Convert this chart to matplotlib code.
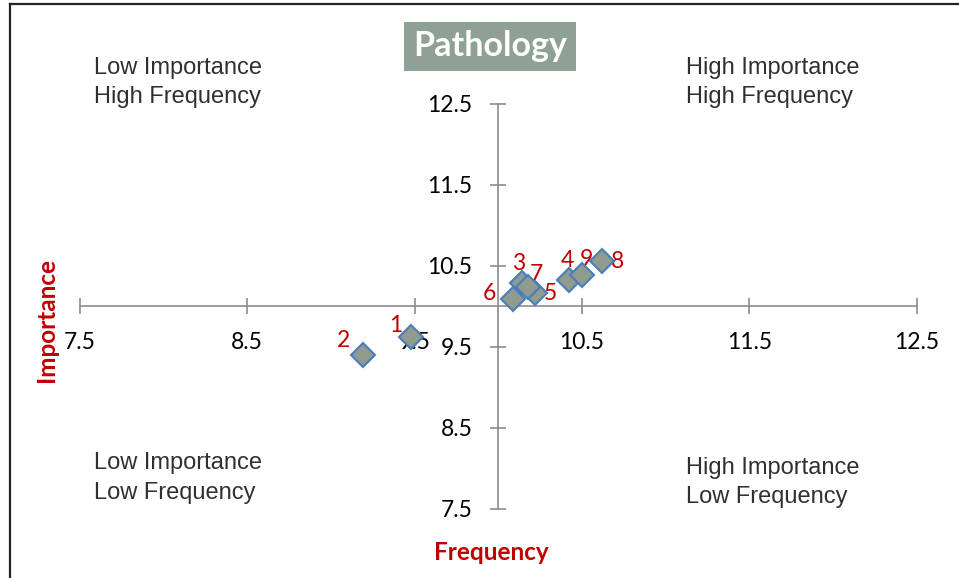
import matplotlib
matplotlib.use("Agg")
import matplotlib.pyplot as plt
from matplotlib.lines import Line2D

# ---------------------------------------------------------
# data
# ---------------------------------------------------------
point_ids = ["1", "2", "3", "4", "5", "6", "7", "8", "9"]
frequency = [9.48, 9.19, 10.14, 10.42, 10.22, 10.09, 10.18, 10.62, 10.50]
importance = [9.62, 9.39, 10.28, 10.32, 10.16, 10.09, 10.24, 10.55, 10.38]

tick_values = [7.5, 8.5, 9.5, 10.5, 11.5, 12.5]
tick_labels = ["7.5", "8.5", "9.5", "10.5", "11.5", "12.5"]

quadrant_texts = [
    "Low Importance\nHigh Frequency",
    "High Importance\nHigh Frequency",
    "Low Importance\nLow Frequency",
    "High Importance\nLow Frequency",
]

# label offsets (points) for each numbered marker
label_offsets = {
    "1": (-11, 8), "2": (-14, 11), "3": (-2, 14), "4": (-1, 14),
    "5": (11, 0), "6": (-17, 4), "7": (6, 9), "8": (11, 0), "9": (3, 11),
}

CALIBRI_LIKE = ["Lato", "DejaVu Sans"]
ARIAL_LIKE = ["Liberation Sans", "DejaVu Sans"]
DARK_RED = "#c00000"
AXIS_GREY = "#8c8c8c"

# ---------------------------------------------------------
# figure
# ---------------------------------------------------------
fig = plt.figure(figsize=(9.59, 5.78), dpi=100)
ax = fig.add_axes([80 / 959, 1 - 508.5 / 578, 836.5 / 959, 405 / 578])

ax.set_xlim(7.5, 12.5)
ax.set_ylim(7.5, 12.5)

# cross-shaped axes through (10, 10)
ax.spines["left"].set_position(("data", 10))
ax.spines["bottom"].set_position(("data", 10))
ax.spines["top"].set_visible(False)
ax.spines["right"].set_visible(False)
for s in ("left", "bottom"):
    ax.spines[s].set_color(AXIS_GREY)
    ax.spines[s].set_linewidth(1.2)

ax.set_xticks(tick_values)
ax.set_xticklabels(tick_labels)
ax.set_yticks(tick_values)
ax.set_yticklabels(tick_labels)
ax.tick_params(axis="both", direction="inout", length=11, width=1.2,
               color=AXIS_GREY, labelsize=16.5, labelcolor="black")
ax.tick_params(axis="x", pad=13)
ax.tick_params(axis="y", pad=13)
for lab in ax.get_xticklabels() + ax.get_yticklabels():
    lab.set_family(CALIBRI_LIKE)

ax.patch.set_visible(False)

# points
ax.plot(frequency, importance, linestyle="none", marker="D", markersize=12,
        markerfacecolor="#8f9b8f", markeredgecolor="#4a7ebb",
        markeredgewidth=1.5, zorder=5, clip_on=False)

for pid, fx, iy in zip(point_ids, frequency, importance):
    ax.annotate(pid, (fx, iy), xytext=label_offsets[pid],
                textcoords="offset points", ha="center", va="center",
                color=DARK_RED, fontsize=16.5, family=CALIBRI_LIKE,
                annotation_clip=False)

# title box
fig.text(490 / 959, 1 - 46.5 / 578, "Pathology", ha="center", va="center",
         color="white", fontsize=24.5, fontweight="bold", family=CALIBRI_LIKE,
         bbox=dict(boxstyle="square,pad=0.26", facecolor="#8fa094",
                   edgecolor="none"))

# axis titles
fig.text(491 / 959, 1 - 552 / 578, "Frequency", ha="center", va="center",
         color=DARK_RED, fontsize=17.5, fontweight="bold", family=CALIBRI_LIKE)
fig.text(47 / 959, 1 - 320 / 578, "Importance", ha="center", va="center",
         rotation=90, color=DARK_RED, fontsize=17.5, fontweight="bold",
         family=CALIBRI_LIKE)

# quadrant captions
quad_pos = [(94, 82.5), (686, 82.5), (94, 478), (686, 482.5)]
for txt, (px, py) in zip(quadrant_texts, quad_pos):
    fig.text(px / 959, 1 - py / 578, txt, ha="left", va="center",
             color="#303030", fontsize=17, family=ARIAL_LIKE, linespacing=1.47)

# outer frame (left and top edges visible)
fig.add_artist(Line2D([10 / 959, 10 / 959], [0, 1 - 4 / 578],
                      transform=fig.transFigure, color="#22222e", lw=1.6))
fig.add_artist(Line2D([10 / 959, 1], [1 - 4 / 578, 1 - 4 / 578],
                      transform=fig.transFigure, color="#22222e", lw=1.6))

fig.savefig("out.png", dpi=100, facecolor="white")
